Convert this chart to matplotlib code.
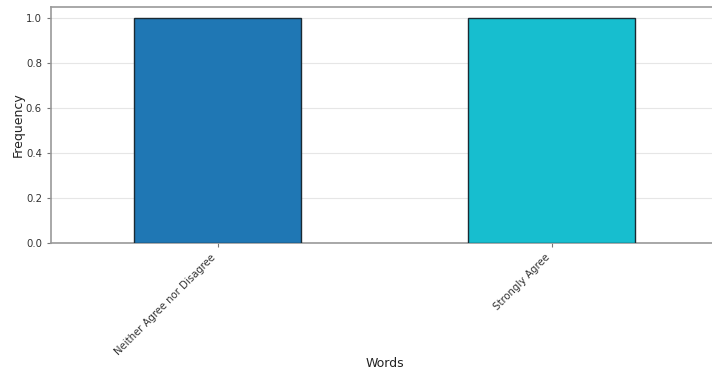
import matplotlib.pyplot as plt

# Frequency of each response word
words = ['Neither Agree nor Disagree', 'Strongly Agree']
frequency = [1, 1]
bar_colors = ['#1f77b4', '#17becf']


def main():
    fig = plt.figure(figsize=(7.12, 3.75), dpi=100)
    ax = fig.add_axes([0.0716, 0.352, 0.938, 0.629])

    ax.bar(range(len(words)), frequency, width=0.5, color=bar_colors,
           edgecolor='#1a2a33', linewidth=1, zorder=3)

    ax.set_xlim(-0.5, len(words) - 0.5)
    ax.set_ylim(0, 1.05)
    ax.set_yticks([0.0, 0.2, 0.4, 0.6, 0.8, 1.0])
    ax.set_xticks(range(len(words)))
    ax.set_xticklabels(words, rotation=45, ha='right', fontsize=7.3, color='#333333')
    ax.tick_params(axis='y', labelsize=7.3, labelcolor='#333333', colors='#777777', length=3)
    ax.tick_params(axis='x', colors='#777777', labelcolor='#333333', length=3)

    ax.yaxis.grid(True, color='#e6e6e6', linewidth=0.8, zorder=0)
    for spine in ax.spines.values():
        spine.set_color('#999999')
        spine.set_linewidth(1.2)

    ax.set_xlabel('Words', fontsize=9, color='#222222', labelpad=0)
    ax.set_ylabel('Frequency', fontsize=9, color='#222222', labelpad=1)

    fig.savefig('out.png', dpi=100)


if __name__ == '__main__':
    main()
